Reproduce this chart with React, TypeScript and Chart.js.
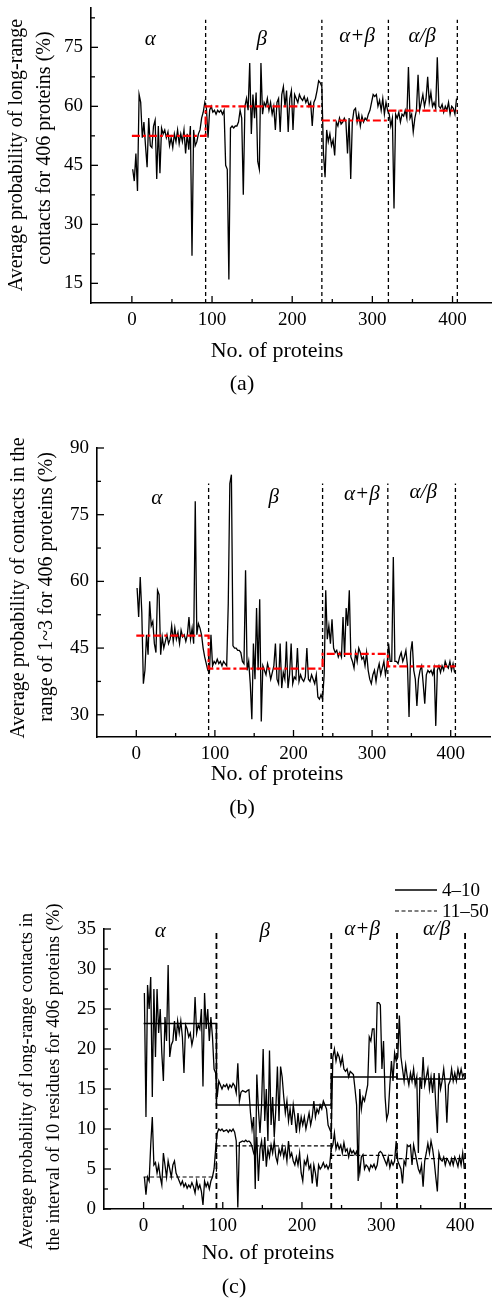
import React, { useEffect, useRef } from 'react';
import { Chart, registerables } from 'chart.js';

Chart.register(...registerables);

const SERIF = '"Liberation Serif", "Times New Roman", serif';

// ---- shared categories ----
const CLASS_NAMES = ['α', 'β', 'α+β', 'α/β'];
const CLASS_BOUNDS = [0, 92, 237, 320, 406];
const X_TICKS = [0, 100, 200, 300, 400];
const X_MINOR = [50, 150, 250, 350];

// ---- panel (a): long-range contacts (values for proteins 1,3,5,...,405) ----
const A_ALPHA = [44, 41, 48, 38.5, 63, 61, 52, 56, 50, 44.5, 57, 50, 49.5, 55, 56.5, 41.5, 55, 43, 54.5, 53, 54, 52, 53.5, 50, 52, 49.5, 53, 51, 54, 50.5, 53, 51, 54, 48, 53, 49, 55, 22, 54, 50, 51, 53, 54, 57, 58.5, 61];
const A_BETA = [59.5, 52, 59, 60, 58.5, 59, 58, 59, 58.5, 59, 58, 59, 45, 44, 16, 54.5, 55, 54.5, 55, 55, 56, 59, 57, 37.5, 60, 62, 59, 71, 53, 63, 57, 63.5, 46, 44, 71, 58, 61, 60, 62, 59, 61, 58, 60, 54, 61, 62, 53.5, 63, 65, 60, 64, 53.5, 62, 64, 54, 63, 62, 61, 63, 62, 61.5, 62.5, 61, 62, 60, 61, 55, 61, 62, 64, 66.5, 66, 65];
const A_ALPHA_PLUS_BETA = [48, 42, 54, 51, 53, 50, 51.5, 47.5, 56, 55, 57, 55.5, 56, 57, 56, 48, 57, 41.5, 56, 59, 59.5, 56, 58, 55, 57.5, 56, 57, 56.5, 58, 59, 61, 63, 62.5, 63, 60, 61.5, 59, 62, 58, 61, 59];
const A_ALPHA_SLASH_BETA = [58, 55, 57, 34, 58, 57, 58.5, 56, 58, 57.5, 59, 57, 70, 57, 58, 53.5, 57, 59, 68, 59, 61, 63, 60, 62, 67.5, 61, 63.5, 60, 61, 59.5, 72.5, 60, 59.5, 60.5, 58.5, 60, 59, 61, 58, 60, 59.5, 58, 62];
const A_MEANS = [52.5, 60, 56.4, 58.9];
const A_Y_TICKS = [15, 30, 45, 60, 75];
const A_Y_MINOR = [22.5, 37.5, 52.5, 67.5, 82.5];

// ---- panel (b): contacts in range 1~3 ----
const B_ALPHA = [58.5, 52, 61, 53, 37, 40, 48, 43.5, 55.5, 50, 51, 46, 44, 58, 57, 43.5, 47.5, 45, 46.5, 48, 46, 47, 50, 46.5, 49.5, 47, 48.5, 46, 49, 47.5, 48, 46.5, 48, 52, 47, 49.5, 46, 78, 48, 50.5, 49.5, 48, 45, 43, 41.5, 40];
const B_BETA = [39.5, 48, 41, 42, 41.5, 42.5, 41.5, 42, 41, 42, 41.5, 41, 55, 82, 84, 45.5, 45, 45, 44.5, 44.5, 44, 42, 41.5, 62.5, 40, 42, 37, 29, 46, 38, 54, 40, 56, 28.5, 41, 40, 39, 41.5, 40, 38, 39.5, 41, 46, 38, 37, 46, 36, 39.5, 38, 46.5, 36, 39, 46, 37, 38.5, 38, 45, 37.5, 39, 38, 37.5, 38.5, 45, 38, 37.5, 39, 38, 37, 39, 34, 33.5, 34.5, 33.5];
const B_ALPHA_PLUS_BETA = [39, 58, 47, 50, 46, 51.5, 45, 44, 44.5, 43, 44, 43, 52, 43, 54, 50, 58, 43, 42, 40.5, 44, 42, 45, 44, 42.5, 43, 41, 44, 40, 38, 37, 39, 40, 37.5, 40, 41.5, 39, 40.5, 42, 39, 41];
const B_ALPHA_SLASH_BETA = [46, 42, 42, 65.5, 42, 42, 41.5, 43, 44, 42, 43, 44.5, 41, 29.5, 44, 46.5, 40, 38, 32, 38, 40, 41, 37, 32.5, 39, 40, 39.5, 40, 39, 40.5, 27.5, 40, 41, 39.5, 41, 40, 42, 41, 40.5, 42, 40, 41.5, 39.5];
const B_MEANS = [47.8, 40.4, 43.7, 40.9];
const B_Y_TICKS = [30, 45, 60, 75, 90];
const B_Y_MINOR = [37.5, 52.5, 67.5, 82.5];

// ---- panel (c): interval of 10 residues, series 4–10 and 11–50 ----
const C1_ALPHA = [27, 11.5, 28, 25, 29, 14, 27.5, 19, 27.5, 22, 25, 19.5, 16, 24, 21, 30.5, 19, 20.5, 21, 23.5, 21, 23.5, 22, 23.5, 21.5, 17, 23, 22.5, 21.5, 22, 20.5, 21.5, 26.5, 22, 23, 22.5, 25, 15.3, 27, 22.5, 25, 21, 24, 21.5, 17.5, 17];
const C1_BETA = [14, 16, 15.5, 15, 15.5, 15.3, 15.6, 15, 15.5, 15.2, 15.7, 15.4, 14.5, 18.2, 13.5, 14.6, 14.8, 14.7, 14.6, 14.8, 14.9, 12, 10, 11.5, 2.5, 16.8, 12.5, 9.5, 13, 20, 11, 15, 8.5, 19.8, 10.5, 14, 9, 12.5, 17.8, 11, 17.8, 16.5, 14, 12, 13.5, 11, 12.5, 10.5, 13, 11.5, 9.5, 12, 10, 11.5, 10.5, 11.5, 10, 11, 12, 10.5, 11.5, 13.5, 11.5, 12.5, 12, 13, 12.5, 13.5, 13, 12.5, 10.5, 10, 9.5];
const C1_ALPHA_PLUS_BETA = [19, 20, 18.5, 19.5, 19, 18, 19, 17.5, 17.2, 17.5, 16.5, 17.2, 17, 16.8, 15, 13, 3.5, 15, 12.5, 14, 13.5, 14.5, 15.5, 21.5, 21, 22.5, 22.5, 17, 25.8, 25.8, 25.5, 17.5, 21, 14, 11.2, 12, 15.5, 18.5, 16, 19.5, 18.5];
const C1_ALPHA_SLASH_BETA = [19, 24.2, 19, 17.5, 16, 18, 16.5, 15.5, 17, 16, 17.5, 15.5, 16.5, 7, 16.5, 15, 19, 15.5, 16.5, 17.5, 15, 16.5, 14.5, 17, 13, 9.5, 17, 15, 16, 17.5, 15.5, 10.8, 15.5, 16, 17.5, 16, 17, 16, 17.5, 16.5, 17.5, 16.5, 17];
const C2_ALPHA = [4, 1.8, 4, 3.5, 8, 11.5, 5.5, 5.8, 4.5, 5.5, 4, 3, 7, 5.5, 4, 6, 5, 4, 5.5, 6, 4.5, 4, 3.5, 3, 3.5, 2.8, 3.2, 2.6, 3, 2.7, 3.3, 2.8, 2, 3.5, 2.5, 3, 2.2, 0.5, 3.5, 2.8, 3.3, 2.5, 3.5, 4, 5, 7.5];
const C2_BETA = [9.5, 10, 9.8, 10, 9.7, 9.8, 9.9, 9.6, 9.9, 9.7, 10, 9.6, 8.5, 0.2, 8.3, 8.4, 8.5, 8.4, 8.6, 8.4, 8.5, 8.3, 7.8, 7, 6.5, 9, 3.5, 7.5, 8.5, 6, 9, 5.3, 7.5, 6.5, 8, 7, 8.5, 6.5, 5.8, 7.5, 6.8, 7.8, 6.5, 7.5, 6, 8.5, 6.5, 7, 6, 5.5, 6.5, 5.5, 7, 4.5, 3.5, 6, 5.5, 6.5, 5, 5.5, 3.2, 5.5, 4.5, 2.8, 5.5, 5, 5.3, 5.8, 5.2, 5.5, 5, 5.5, 7.5];
const C2_ALPHA_PLUS_BETA = [8, 9.5, 7.5, 8.2, 7.5, 8, 7, 8.3, 7.2, 7.5, 6.5, 7.5, 7, 7.3, 6.8, 7.2, 6.2, 4.5, 6.5, 6.8, 5, 5.5, 5.3, 4.8, 5.5, 5.2, 5.6, 5, 5.5, 7, 7.2, 7, 6.5, 6, 5.5, 6.5, 5.2, 6, 5.5, 6, 8.5];
const C2_ALPHA_SLASH_BETA = [6, 5.5, 5, 3.2, 6, 5.5, 8, 7.8, 8, 5.5, 8, 7, 6, 5, 4.5, 5.5, 2.8, 6, 7, 8.2, 7, 8.5, 7.5, 6, 4, 2.2, 7, 6.2, 6, 6.5, 5.5, 6.3, 6, 5.5, 6.3, 5.5, 6.5, 6, 5.3, 6.5, 5.5, 7, 5];
const C1_MEANS = [23.2, 13.0, 16.5, 16.25];
const C2_MEANS = [4.0, 7.9, 6.7, 6.3];
const C_Y_TICKS = [0, 5, 10, 15, 20, 25, 30, 35];
const C_Y_MINOR = [2.5, 7.5, 12.5, 17.5, 22.5, 27.5, 32.5];
const LEGEND_LABELS = ['4–10', '11–50'];

// ---- helpers ----
type Pt = { x: number; y: number | null };
const toPoints = (vals: number[]): Pt[] => vals.map((y, i) => ({ x: 2 * i + 1, y }));
const stepPoints = (means: number[], connect: boolean[]): Pt[] => {
  const pts: Pt[] = [];
  for (let k = 0; k < means.length; k++) {
    if (k > 0 && !connect[k - 1]) pts.push({ x: CLASS_BOUNDS[k], y: null });
    pts.push({ x: CLASS_BOUNDS[k], y: means[k] });
    pts.push({ x: CLASS_BOUNDS[k + 1], y: means[k] });
  }
  return pts;
};
const sepPoints = (lo: number, hi: number): Pt[] => {
  const pts: Pt[] = [];
  CLASS_BOUNDS.slice(1).forEach((b, i) => {
    if (i > 0) pts.push({ x: b - 1, y: null });
    pts.push({ x: b, y: lo });
    pts.push({ x: b, y: hi });
  });
  return pts;
};

const W = 492;
const YW = 50;
const XH = 30;

type TextItem = { text: string; x: number; y: number };
type Spec = {
  top: number;
  height: number;
  area: { left: number; right: number; top: number; bottom: number };
  xMin: number; xMax: number; yMin: number; yMax: number;
  yTicks: number[]; yMinor: number[];
  datasets: any[];
  yTitle: TextItem[]; yTitleSize: number;
  sectionX: number[]; sectionY: number[];
  xTitle: TextItem; caption: TextItem;
  legend?: boolean;
};

const decorPlugin = (spec: Spec) => ({
  id: 'decor',
  afterDraw(chart: any) {
    const { ctx, chartArea } = chart;
    const xs = chart.scales.x;
    const ys = chart.scales.y;
    ctx.save();
    ctx.strokeStyle = '#000';
    ctx.fillStyle = '#000';
    ctx.lineWidth = 1.3;
    ctx.setLineDash([]);
    const seg = (x1: number, y1: number, x2: number, y2: number) => {
      ctx.beginPath(); ctx.moveTo(x1, y1); ctx.lineTo(x2, y2); ctx.stroke();
    };
    X_TICKS.forEach((v) => { const p = xs.getPixelForValue(v); seg(p, chartArea.bottom, p, chartArea.bottom - 7); });
    X_MINOR.forEach((v) => { const p = xs.getPixelForValue(v); seg(p, chartArea.bottom, p, chartArea.bottom - 4); });
    spec.yTicks.forEach((v) => { const p = ys.getPixelForValue(v); seg(chartArea.left, p, chartArea.left + 7, p); });
    spec.yMinor.forEach((v) => { const p = ys.getPixelForValue(v); seg(chartArea.left, p, chartArea.left + 4, p); });

    // y title
    ctx.font = `${spec.yTitleSize}px ${SERIF}`;
    ctx.textAlign = 'center';
    ctx.textBaseline = 'alphabetic';
    spec.yTitle.forEach((t) => {
      ctx.save();
      ctx.translate(t.x, t.y);
      ctx.rotate(-Math.PI / 2);
      ctx.fillText(t.text, 0, 0);
      ctx.restore();
    });

    // x title and caption
    ctx.font = `22px ${SERIF}`;
    ctx.fillText(spec.xTitle.text, spec.xTitle.x, spec.xTitle.y);
    ctx.fillText(spec.caption.text, spec.caption.x, spec.caption.y);

    // class labels
    ctx.font = `italic 21px ${SERIF}`;
    CLASS_NAMES.forEach((name, i) => {
      ctx.fillText(name, xs.getPixelForValue(spec.sectionX[i]), spec.sectionY[i]);
    });

    if (spec.legend) {
      ctx.font = `19px ${SERIF}`;
      ctx.textAlign = 'left';
      ctx.lineWidth = 1.4;
      ctx.setLineDash([]);
      seg(395, 50, 437, 50);
      ctx.fillText(LEGEND_LABELS[0], 442, 56);
      ctx.lineWidth = 1.2;
      ctx.setLineDash([4, 2.5]);
      seg(395, 71, 437, 71);
      ctx.setLineDash([]);
      ctx.fillText(LEGEND_LABELS[1], 442, 77);
    }
    ctx.restore();
  },
});

const buildConfig = (spec: Spec): any => ({
  type: 'line',
  data: { datasets: spec.datasets },
  options: {
    responsive: false,
    animation: false,
    devicePixelRatio: 1,
    events: [],
    layout: {
      padding: {
        left: spec.area.left - YW,
        right: W - spec.area.right,
        top: spec.area.top,
        bottom: spec.height - spec.area.bottom - XH,
      },
    },
    plugins: { legend: { display: false }, tooltip: { enabled: false } },
    elements: { point: { radius: 0, hoverRadius: 0 }, line: { tension: 0 } },
    scales: {
      x: {
        type: 'linear',
        min: spec.xMin,
        max: spec.xMax,
        afterFit: (s: any) => { s.height = XH; s.paddingLeft = 0; s.paddingRight = 0; },
        afterBuildTicks: (s: any) => { s.ticks = X_TICKS.map((v) => ({ value: v })); },
        grid: { display: false, drawTicks: false },
        border: { display: true, color: '#000', width: 1.6 },
        ticks: { color: '#000', font: { family: SERIF, size: 19 }, padding: 6, maxRotation: 0, autoSkip: false },
      },
      y: {
        type: 'linear',
        min: spec.yMin,
        max: spec.yMax,
        afterFit: (s: any) => { s.width = YW; s.paddingTop = 0; s.paddingBottom = 0; },
        afterBuildTicks: (s: any) => { s.ticks = spec.yTicks.map((v) => ({ value: v })); },
        grid: { display: false, drawTicks: false },
        border: { display: true, color: '#000', width: 1.6 },
        ticks: { color: '#000', font: { family: SERIF, size: 19 }, padding: 8, autoSkip: false },
      },
    },
  },
  plugins: [decorPlugin(spec)],
});

const dataLine = (vals: number[], dash: number[] = []) => ({
  data: toPoints(vals), borderColor: '#000', borderWidth: 1.3, borderDash: dash, pointRadius: 0, spanGaps: false,
});
const meanLine = (pts: Pt[], color: string, width: number, dash: number[]) => ({
  data: pts, borderColor: color, borderWidth: width, borderDash: dash, pointRadius: 0, spanGaps: false,
});
const sepLine = (lo: number, hi: number, width: number, dash: number[]) => ({
  data: sepPoints(lo, hi), borderColor: '#000', borderWidth: width, borderDash: dash, pointRadius: 0, spanGaps: false,
});

const SPEC_A: Spec = {
  top: 0, height: 420,
  area: { left: 91, right: 491, top: 8, bottom: 303 },
  xMin: -51, xMax: 448, yMin: 10, yMax: 85,
  yTicks: A_Y_TICKS, yMinor: A_Y_MINOR,
  datasets: [
    meanLine(stepPoints(A_MEANS, [true, false, false]), '#ff0000', 2.2, [8, 3, 3, 3]),
    dataLine([...A_ALPHA, ...A_BETA, ...A_ALPHA_PLUS_BETA, ...A_ALPHA_SLASH_BETA]),
    sepLine(10, 82, 1.3, [4, 3]),
  ],
  yTitle: [
    { text: 'Average probability of long-range', x: 22, y: 155 },
    { text: 'contacts for 406 proteins (%)', x: 50, y: 148 },
  ],
  yTitleSize: 20,
  sectionX: [23, 162, 281, 362], sectionY: [45, 45, 42, 42],
  xTitle: { text: 'No. of proteins', x: 277, y: 357 },
  caption: { text: '(a)', x: 242, y: 390 },
};

const SPEC_B: Spec = {
  top: 420, height: 420,
  area: { left: 97, right: 490, top: 28, bottom: 317 },
  xMin: -50, xMax: 450, yMin: 25, yMax: 90,
  yTicks: B_Y_TICKS, yMinor: B_Y_MINOR,
  datasets: [
    meanLine(stepPoints(B_MEANS, [true, true, true]), '#ff0000', 2.2, [8, 3, 3, 3]),
    dataLine([...B_ALPHA, ...B_BETA, ...B_ALPHA_PLUS_BETA, ...B_ALPHA_SLASH_BETA]),
    sepLine(25, 82, 1.3, [4, 3]),
  ],
  yTitle: [
    { text: 'Average probability of contacts in the', x: 24, y: 168 },
    { text: 'range of 1~3 for 406 proteins (%)', x: 52, y: 167 },
  ],
  yTitleSize: 20,
  sectionX: [26, 175, 287, 365], sectionY: [84, 83, 80, 78],
  xTitle: { text: 'No. of proteins', x: 277, y: 360 },
  caption: { text: '(b)', x: 242, y: 394 },
};

const SPEC_C: Spec = {
  top: 840, height: 460,
  area: { left: 104, right: 492, top: 89, bottom: 369 },
  xMin: -50, xMax: 440, yMin: 0, yMax: 35,
  yTicks: C_Y_TICKS, yMinor: C_Y_MINOR,
  datasets: [
    meanLine(stepPoints(C1_MEANS, [true, true, true]), '#000', 1.5, []),
    meanLine(stepPoints(C2_MEANS, [true, true, true]), '#000', 1.2, [4, 2.5]),
    dataLine([...C1_ALPHA, ...C1_BETA, ...C1_ALPHA_PLUS_BETA, ...C1_ALPHA_SLASH_BETA]),
    dataLine([...C2_ALPHA, ...C2_BETA, ...C2_ALPHA_PLUS_BETA, ...C2_ALPHA_SLASH_BETA]),
    sepLine(0, 35, 1.8, [6, 4]),
  ],
  yTitle: [
    { text: 'Average probability of long-range contacts in', x: 32, y: 241 },
    { text: 'the interval of 10 residues for 406 proteins (%)', x: 59, y: 237 },
  ],
  yTitleSize: 18.5,
  sectionX: [21, 153, 276, 370], sectionY: [97, 97, 95, 95],
  xTitle: { text: 'No. of proteins', x: 268, y: 419 },
  caption: { text: '(c)', x: 234, y: 453 },
  legend: true,
};

function Panel({ spec }: { spec: Spec }) {
  const ref = useRef<HTMLCanvasElement>(null);
  useEffect(() => {
    if (!ref.current) return;
    const chart = new Chart(ref.current, buildConfig(spec));
    return () => chart.destroy();
  }, [spec]);
  return (
    <canvas
      ref={ref}
      width={W}
      height={spec.height}
      style={{ position: 'absolute', left: 0, top: spec.top, width: W, height: spec.height, display: 'block' }}
    />
  );
}

export default function App() {
  return (
    <div style={{ position: 'absolute', left: 0, top: 0, width: W, height: 1300, background: '#fff' }}>
      <Panel spec={SPEC_A} />
      <Panel spec={SPEC_B} />
      <Panel spec={SPEC_C} />
    </div>
  );
}
